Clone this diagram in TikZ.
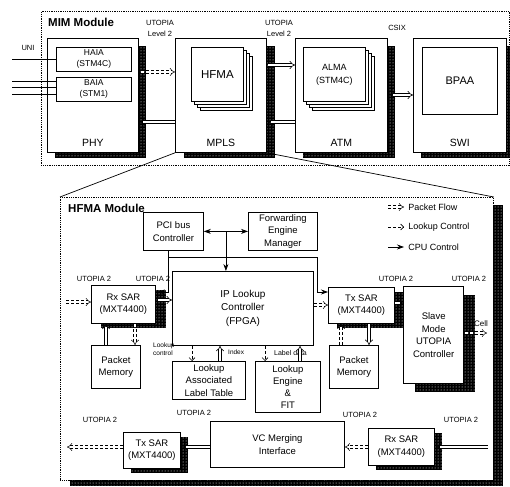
\documentclass[tikz,border=0pt]{standalone}
\usepackage{fontspec}
\setmainfont{Liberation Sans}
\usetikzlibrary{arrows.meta,calc,patterns}
\begin{document}
\begin{tikzpicture}[x=1pt,y=-1pt,
  box/.style={draw, fill=white, line width=0.8pt, align=center, inner sep=0pt,
    font=\fontsize{9.5}{12.5}\selectfont, anchor=north west},
  shadowfill/.style={fill=black, postaction={pattern=dots, pattern color=white}},
  modbox/.style={draw, densely dotted, line width=0.8pt, anchor=north west, inner sep=0pt},
  pfs/.style={double, double distance=2.2pt, line width=0.6pt, -{Implies}},
  pfd/.style={double, double distance=2.2pt, line width=0.5pt, dash pattern=on 3pt off 2pt, -{Implies}},
  lc/.style={line width=0.6pt, densely dashed, -{Straight Barb[length=3pt,width=6pt]}},
  cpu/.style={line width=0.7pt, -{Stealth[length=7pt,width=5pt]}},
  utop/.style={font=\fontsize{7.5}{9}\selectfont, inner sep=0pt},
  big/.style={font=\fontsize{10.5}{12}\selectfont, inner sep=0pt},
  modlbl/.style={font=\bfseries\fontsize{11.5}{13}\selectfont, inner sep=0pt, anchor=west},
  lgd/.style={font=\fontsize{9}{11}\selectfont, inner sep=0pt, anchor=west},
  tiny/.style={font=\fontsize{6.5}{8}\selectfont, inner sep=0pt, align=left}
]
\useasboundingbox (0,0) rectangle (510,486);

% ---------------- MIM module ----------------
\node[modbox, minimum width=468pt, minimum height=154pt] (mim) at (41,11) {};
\node[modlbl] (mimlbl) at (48,22) {MIM Module};

% shadows of MIM boxes
\fill[shadowfill] (55,46) rectangle (146,158);
\fill[shadowfill] (184,46) rectangle (275,158);
\fill[shadowfill] (303,46) rectangle (395,158);
\fill[shadowfill] (421,46) rectangle (512,158);

\node[box, minimum width=91pt, minimum height=114pt] (phy) at (47,38) {};
\node[box, font=\fontsize{8.5}{11}\selectfont, minimum width=75pt, minimum height=24pt] (haia) at (56,47) {HAIA\\(STM4C)};
\node[box, font=\fontsize{8.5}{11}\selectfont, minimum width=75pt, minimum height=24pt] (baia) at (56,77) {BAIA\\(STM1)};
\node[big] (phyl) at ($(phy.south)+(0,-10)$) {PHY};

\node[box, minimum width=91pt, minimum height=114pt] (mpls) at (175,38) {};
\foreach \d in {9,6,3}
  \node[box, minimum width=52pt, minimum height=54pt] (hfma\d) at (191+\d,47+\d) {};
\node[box, font=\fontsize{11.5}{13}\selectfont, minimum width=52pt, minimum height=54pt] (hfma) at (191,47) {HFMA};
\node[big] (mplsl) at ($(mpls.south)+(0,-10)$) {MPLS};

\node[box, minimum width=92pt, minimum height=114pt] (atm) at (295,38) {};
\foreach \d in {9,6,3}
  \node[box, minimum width=62pt, minimum height=54pt] (alma\d) at (303+\d,47+\d) {};
\node[box, font=\fontsize{9}{13}\selectfont, minimum width=62pt, minimum height=54pt] (alma) at (303,47) {ALMA\\(STM4C)};
\node[big] (atml) at ($(atm.south)+(0,-10)$) {ATM};

\node[box, minimum width=93pt, minimum height=114pt] (swi) at (413,38) {};
\node[box, font=\fontsize{11}{13}\selectfont, minimum width=75pt, minimum height=67pt] (bpaa) at (422,47) {BPAA};
\node[big] (swil) at ($(swi.south)+(0,-10)$) {SWI};

\node[utop] (u1a) at (160,23) {UTOPIA};
\node[utop] (u1b) at (160,34) {Level 2};
\node[utop] (u2a) at (279,23) {UTOPIA};
\node[utop] (u2b) at (279,34) {Level 2};
\node[utop] (csix) at (397,28) {CSIX};
\node[utop] (uni) at (28,48) {UNI};

\coordinate (l0) at (12,59);
\coordinate (l1) at (12,81);
\coordinate (l2) at (12,87);
\coordinate (l3) at (12,94);
\draw[line width=0.6pt] (l0) -- (l0 -| haia.west);
\foreach \i in {1,2,3} \draw[line width=0.6pt] (l\i) -- (l\i -| baia.west);

\draw[pfd] ($(phy.north east)+(2,34)$) -- ($(mpls.north west)+(0,34)$);
\draw[pfs] ($(mpls.north west)+(0,84)$) -- ($(phy.north east)+(1,84)$);
\draw[pfs] ($(mpls.north east)+(1,27)$) -- ($(atm.north west)+(0,27)$);
\draw[pfs] ($(atm.north west)+(0,84)$) -- ($(mpls.north east)+(1,84)$);
\draw[double, double distance=2.2pt, line width=0.6pt, {Implies}-{Implies}] ($(atm.north east)+(2,57)$) -- ($(swi.north west)+(0,57)$);

% ---------------- HFMA module ----------------
\fill[shadowfill] (70,205) rectangle (503,486);
\node[modbox, fill=white, minimum width=433pt, minimum height=283pt] (hfmod) at (60,197) {};
\draw[line width=0.7pt] (mpls.south west) -- (hfmod.north west);
\draw[line width=0.7pt] (mpls.south east) -- (hfmod.north east);
\node[modlbl] (hfmodlbl) at (68,208) {HFMA Module};

% legend
\coordinate (lg1) at (388,207);
\coordinate (lg2) at (388,227);
\coordinate (lg3) at (388,247);
\draw[pfd] (lg1) -- ++(16,0) node[lgd, right=4pt] (lgt1) {Packet Flow};
\draw[lc] (lg2) -- ++(16,0) node[lgd, right=4pt] (lgt2) {Lookup Control};
\draw[cpu] (lg3) -- ++(16,0) node[lgd, right=4pt] (lgt3) {CPU Control};

% shadows inside HFMA module
\fill[shadowfill] (101,290) rectangle (166,328);
\fill[shadowfill] (337,292) rectangle (403,328);
\fill[shadowfill] (415,295) rectangle (475,392);
\fill[shadowfill] (131,437) rectangle (188,473);
\fill[shadowfill] (376,433) rectangle (442,470);

\node[box, minimum width=60pt, minimum height=38pt] (pci) at (143,212) {PCI bus\\Controller};
\node[box, minimum width=69pt, minimum height=38pt] (fem) at (248,212) {Forwarding\\Engine\\Manager};
\node[box, font=\fontsize{10}{13.5}\selectfont, minimum width=141pt, minimum height=74pt] (ip) at (172,271) {IP Lookup\\Controller\\(FPGA)};

\node[box, minimum width=64pt, minimum height=38pt] (rxsar) at (91,285) {Rx SAR\\(MXT4400)};
\node[box, minimum width=66pt, minimum height=36pt] (txsar) at (328,287) {Tx SAR\\(MXT4400)};
\node[box, line width=1.3pt, minimum width=60pt, minimum height=97pt] (slave) at (403,286) {Slave\\Mode\\UTOPIA\\Controller};

\node[box, minimum width=49pt, minimum height=43pt] (pml) at (91,345) {Packet\\Memory};
\node[box, minimum width=49pt, minimum height=43pt] (pmr) at (329,345) {Packet\\Memory};
\node[box, minimum width=73pt, minimum height=38pt] (lalt) at (172,361) {Lookup\\Associated\\Label Table};
\node[box, font=\fontsize{9.5}{12}\selectfont, minimum width=65pt, minimum height=51pt] (leng) at (255,361) {Lookup\\Engine\\\&\\FIT};

\node[box, minimum width=134pt, minimum height=46pt] (vcm) at (210,421) {VC Merging\\Interface};
\node[box, minimum width=57pt, minimum height=36pt] (txb) at (123,432) {Tx SAR\\(MXT4400)};
\node[box, minimum width=66pt, minimum height=37pt] (rxb) at (368,428) {Rx SAR\\(MXT4400)};

\node[utop] (u3) at (94,279) {UTOPIA 2};
\node[utop] (u4) at (153,279) {UTOPIA 2};
\node[utop] (u5) at (396,279) {UTOPIA 2};
\node[utop] (u6) at (469,279) {UTOPIA 2};
\node[utop] (u7) at (194,413) {UTOPIA 2};
\node[utop] (u8) at (360,415) {UTOPIA 2};
\node[utop] (u9) at (100,420) {UTOPIA 2};
\node[utop] (u10) at (461,420) {UTOPIA 2};
\node[utop, font=\fontsize{8}{9}\selectfont] (cell) at (481,324) {Cell};

\node[tiny, anchor=west] (lcl) at (153,349) {Lookup\\control};
\node[tiny, anchor=west] (idx) at (228,352) {Index};
\node[tiny, font=\fontsize{7}{8}\selectfont, anchor=west] (ldata) at (274,353) {Label data};

% CPU control
\coordinate (j1) at ($(pci.east)!0.5!(fem.west)$);
\draw[line width=0.7pt, {Stealth[length=7pt,width=5pt]}-{Stealth[length=7pt,width=5pt]}] (pci.east) -- (fem.west);
\draw[cpu] (j1) -- (j1 |- ip.north);
\coordinate (c0) at ($(pci.south)+(-5,0)$);
\coordinate (c1) at ($(c0)+(0,7)$);
\coordinate (c2) at ($(ip.north east)+(4,21)$);
\draw[cpu] (c0) |- ($(rxsar.north east)+(2,7)$);
\draw[cpu] (c1) -| (c2) -- (c2 -| txsar.west);

% packet flow
\coordinate (rxin) at (66,302);
\draw[pfd] (rxin) -- (rxin -| rxsar.west);
\draw[pfs] ($(rxsar.north east)+(2,15)$) -- ($(ip.north west)+(0,29)$);
\draw[pfd] ($(ip.north east)+(0,34)$) -- ($(txsar.north west)+(0,18)$);
\draw[pfs] ($(txsar.north east)+(0,16)$) -- ($(slave.north west)+(0,17)$);
\coordinate (cellend) at (487,333);
\draw[pfd] ($(slave.north east)+(1,47)$) -- (cellend);

\draw[pfs] ($(pml.north west)+(15,0)$) -- ($(rxsar.south west)+(15,0)$);
\draw[pfd] ($(rxsar.south west)+(44,0)$) -- ($(pml.north west)+(44,0)$);
\draw[pfd] ($(pmr.north west)+(12,0)$) -- ($(txsar.south west)+(13,0)$);
\draw[pfs] ($(txsar.south west)+(41,0)$) -- ($(pmr.north west)+(40,0)$);

% lookup
\draw[lc] ($(ip.south west)+(20,0)$) -- ($(lalt.north west)+(20,0)$);
\draw[pfs] ($(lalt.north west)+(48,0)$) -- ($(ip.south west)+(48,0)$);
\draw[lc] ($(ip.south west)+(93,0)$) -- ($(leng.north west)+(10,0)$);
\draw[pfs] ($(leng.north west)+(45,0)$) -- ($(ip.south west)+(128,0)$);

% bottom row
\draw[pfs] ($(vcm.north west)+(0,26)$) -- ($(txb.north east)+(2,15)$);
\coordinate (txout) at (67,447);
\draw[pfd] ($(txb.north west)+(0,15)$) -- (txout);
\coordinate (rxin2) at (488,447);
\draw[pfs] (rxin2) -- ($(rxb.north east)+(2,19)$);
\draw[pfd] ($(rxb.north west)+(0,19)$) -- ($(vcm.north east)+(0,26)$);
\end{tikzpicture}
\end{document}
